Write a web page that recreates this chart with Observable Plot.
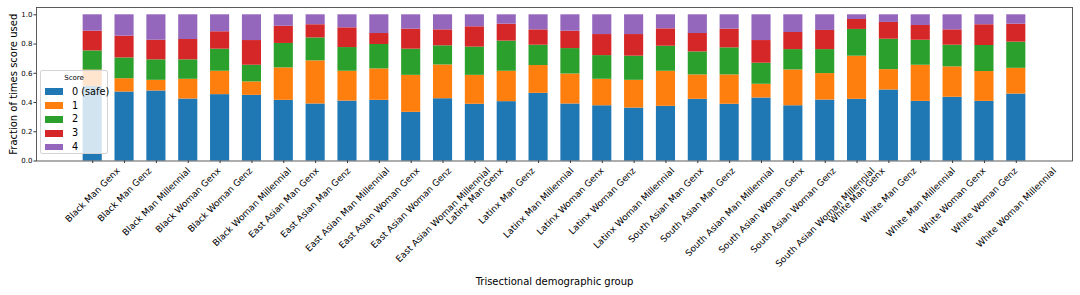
<!DOCTYPE html>
<html>
<head>
<meta charset="utf-8">
<script src="https://cdn.jsdelivr.net/npm/d3@7"></script>
<script src="https://cdn.jsdelivr.net/npm/@observablehq/plot@0.6"></script>
<style>
  html, body { margin: 0; padding: 0; background: #fff; }
  #wrap { position: relative; width: 1080px; height: 295px; font-family: "DejaVu Sans", sans-serif; }
  #legend { position: absolute; left: 40px; top: 70px; width: 68px; height: 84px; box-sizing: border-box;
            background: rgba(255,255,255,0.8); border: 1px solid #d4d4d4; border-radius: 2px; }
  #legend .title { position: absolute; left: 0; right: 0; top: 3px; text-align: center; font-size: 7px; line-height: 9px; }
  #legend .row { position: absolute; left: 4px; height: 12px; }
  #legend .sw { position: absolute; left: 0; top: 2.7px; width: 18px; height: 6.6px; }
  #legend .lab { position: absolute; left: 27px; top: 0; font-size: 9.7px; line-height: 12px; white-space: nowrap; }
</style>
</head>
<body>
<div id="wrap"></div>
<script>
const groups = [
  "Black Man Genx", "Black Man Genz", "Black Man Millennial",
  "Black Woman Genx", "Black Woman Genz", "Black Woman Millennial",
  "East Asian Man Genx", "East Asian Man Genz", "East Asian Man Millennial",
  "East Asian Woman Genx", "East Asian Woman Genz", "East Asian Woman Millennial",
  "Latinx Man Genx", "Latinx Man Genz", "Latinx Man Millennial",
  "Latinx Woman Genx", "Latinx Woman Genz", "Latinx Woman Millennial",
  "South Asian Man Genx", "South Asian Man Genz", "South Asian Man Millennial",
  "South Asian Woman Genx", "South Asian Woman Genz", "South Asian Woman Millennial",
  "White Man Genx", "White Man Genz", "White Man Millennial",
  "White Woman Genx", "White Woman Genz", "White Woman Millennial"
];
const scoreLabels = ["0 (safe)", "1", "2", "3", "4"];
const colors = ["#1f77b4", "#ff7f0e", "#2ca02c", "#d62728", "#9467bd"];
const yTicks = [0, 0.2, 0.4, 0.6, 0.8, 1.0];

const score0 = [0.510, 0.472, 0.479, 0.424, 0.454, 0.449, 0.415, 0.390, 0.410, 0.415,
                0.333, 0.426, 0.388, 0.406, 0.463, 0.390, 0.378, 0.362, 0.374, 0.422,
                0.388, 0.431, 0.378, 0.417, 0.422, 0.486, 0.408, 0.436, 0.408, 0.458];
const score1 = [0.112, 0.091, 0.073, 0.135, 0.160, 0.092, 0.222, 0.295, 0.204, 0.215,
                0.253, 0.231, 0.198, 0.208, 0.190, 0.205, 0.181, 0.190, 0.240, 0.167,
                0.201, 0.094, 0.245, 0.181, 0.295, 0.139, 0.247, 0.208, 0.204, 0.176];
const score2 = [0.131, 0.142, 0.140, 0.133, 0.151, 0.114, 0.167, 0.157, 0.162, 0.167,
                0.179, 0.131, 0.193, 0.206, 0.139, 0.174, 0.162, 0.165, 0.171, 0.157,
                0.185, 0.144, 0.139, 0.164, 0.183, 0.208, 0.171, 0.148, 0.178, 0.179];
const score3 = [0.135, 0.149, 0.134, 0.139, 0.119, 0.169, 0.118, 0.090, 0.135, 0.075,
                0.137, 0.109, 0.139, 0.116, 0.105, 0.119, 0.144, 0.148, 0.119, 0.126,
                0.128, 0.155, 0.117, 0.131, 0.068, 0.115, 0.101, 0.105, 0.142, 0.123];
const score4 = [0.112, 0.146, 0.174, 0.169, 0.116, 0.176, 0.078, 0.068, 0.089, 0.128,
                0.098, 0.103, 0.082, 0.064, 0.103, 0.112, 0.135, 0.135, 0.096, 0.128,
                0.098, 0.176, 0.121, 0.107, 0.032, 0.052, 0.073, 0.103, 0.068, 0.064];

const series = [score0, score1, score2, score3, score4];
const rows = [];
series.forEach((vals, s) => vals.forEach((v, i) => rows.push({group: groups[i], score: scoreLabels[s], value: v})));

const chart = Plot.plot({
  width: 1080,
  height: 295,
  marginLeft: 36,
  marginRight: 8,
  marginTop: 7,
  marginBottom: 134.5,
  style: {fontFamily: "DejaVu Sans, sans-serif", fontSize: "7px", color: "#000", background: "#fff", overflow: "visible"},
  x: {type: "band", domain: groups, paddingInner: 0.4, paddingOuter: 1.465, round: false, label: null},
  y: {domain: [0, 1.05], label: null},
  color: {domain: scoreLabels, range: colors},
  marks: [
    Plot.barY(rows, {x: "group", y: "value", fill: "score", order: scoreLabels}),
    Plot.frame({stroke: "#333", strokeWidth: 0.8}),
    Plot.axisY({ticks: yTicks, tickFormat: d3.format(".1f"), tickSize: 2.5, tickPadding: 1.5, label: null, fontSize: 7, stroke: "#333"}),
    Plot.axisX({tickSize: 2.5, tickFormat: () => "", label: null, stroke: "#333"}),
    Plot.text(groups, {x: d => d, frameAnchor: "bottom", rotate: -45, textAnchor: "middle", lineAnchor: "middle", fontSize: 9, fill: "#000"}),
    Plot.text(["Fraction of times score used"], {text: d => d, frameAnchor: "left", dx: -23, rotate: -90, textAnchor: "middle", lineAnchor: "middle", fontSize: 10, fill: "#000"}),
    Plot.text(["Trisectional demographic group"], {text: d => d, frameAnchor: "bottom", dy: 121, textAnchor: "middle", lineAnchor: "middle", fontSize: 10, fill: "#000"})
  ]
});

const wrap = document.getElementById("wrap");
wrap.appendChild(chart);

// matplotlib-style centred rotated tick labels: bbox top sits just below the tick
const groupSet = new Set(groups);
const fontH = 10.4;
chart.querySelectorAll("text").forEach(el => {
  if (!groupSet.has(el.textContent)) return;
  const L = el.getComputedTextLength();
  const t = el.getAttribute("transform") || "";
  const m = t.match(/translate\(\s*([-\d.e]+)[ ,]+([-\d.e]+)\s*\)/);
  if (!m) return;
  const x = +m[1], y = +m[2];
  const off = 4.6 + (L + fontH) * Math.SQRT1_2 / 2;
  el.setAttribute("transform", t.replace(m[0], `translate(${x},${y + off})`));
});

// legend inside the axes
const legend = document.createElement("div");
legend.id = "legend";
const title = document.createElement("div");
title.className = "title";
title.textContent = "Score";
legend.appendChild(title);
scoreLabels.forEach((s, i) => {
  const row = document.createElement("div");
  row.className = "row";
  row.style.top = (14.6 + i * 13.9) + "px";
  const sw = document.createElement("div");
  sw.className = "sw";
  sw.style.background = colors[i];
  const lab = document.createElement("div");
  lab.className = "lab";
  lab.textContent = s;
  row.appendChild(sw);
  row.appendChild(lab);
  legend.appendChild(row);
});
wrap.appendChild(legend);
</script>
</body>
</html>
